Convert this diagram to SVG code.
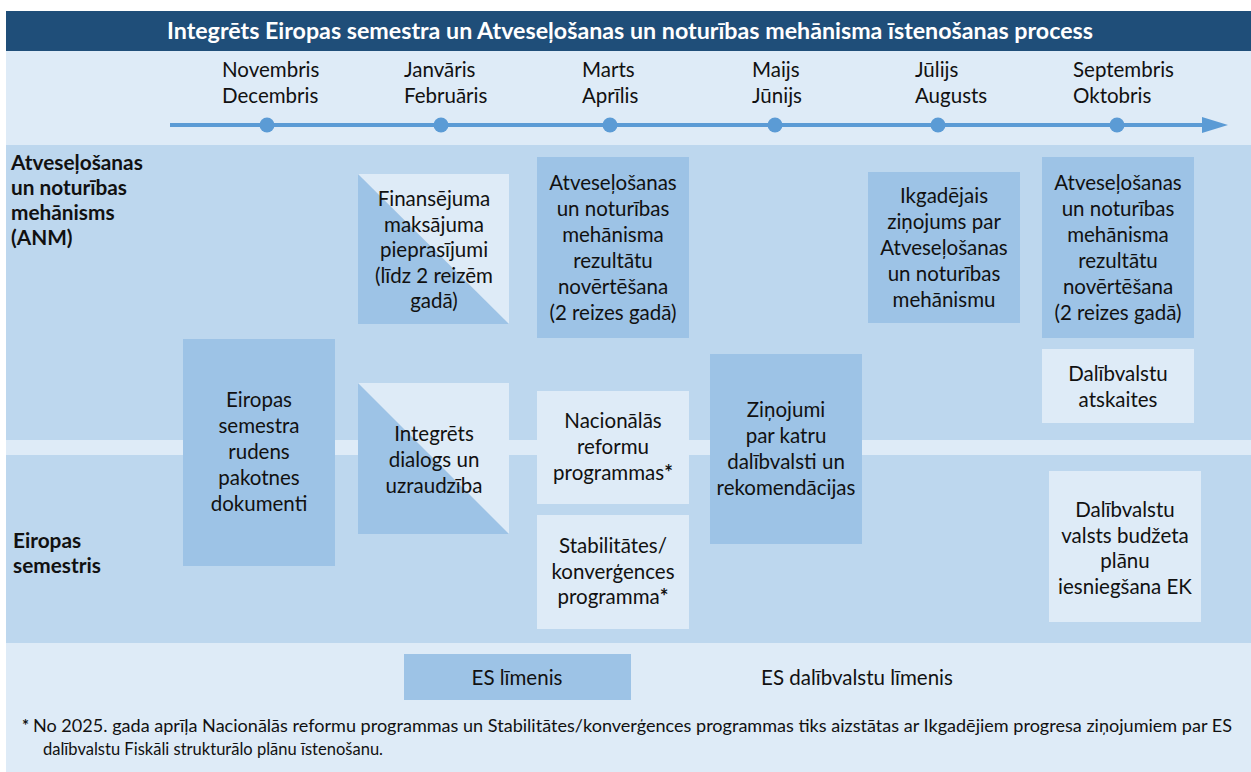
<svg xmlns="http://www.w3.org/2000/svg" width="1251" height="772" viewBox="0 0 1251 772">
<style>
text{font-family:Lato,"Liberation Sans",sans-serif;fill:#111;}
.t{font-size:20.5px;text-anchor:middle;}
.m{font-size:20.5px;}
.h{font-size:20.8px;font-weight:bold;}
.title{font-size:22.5px;font-weight:bold;fill:#fff;text-anchor:middle;}
.fn{font-size:16.5px;}
.ast{font-weight:bold;}
.dark{fill:#9dc3e6;}
.light{fill:#deebf7;}
.dot{fill:#5b9bd5;}
</style>
<rect x="0" y="0" width="1251" height="772" fill="#fff"/>
<rect x="6" y="51" width="1245" height="721" class="light"/>
<rect x="6" y="11" width="1245" height="40" fill="#1f4e79"/>
<rect x="6" y="145" width="1245" height="498" fill="#bdd7ee"/>
<rect x="6" y="440" width="1245" height="15" class="light"/>
<text class="title" x="630" y="39" textLength="926" lengthAdjust="spacingAndGlyphs">Integrēts Eiropas semestra un Atveseļošanas un noturības mehānisma īstenošanas process</text>

<g id="timeline">
<line x1="170" y1="125" x2="1206" y2="125" stroke="#5b9bd5" stroke-width="4"/>
<polygon points="1202,117 1228,125 1202,133" class="dot"/>
<circle cx="267" cy="125" r="7.5" class="dot"/>
<circle cx="441" cy="125" r="7.5" class="dot"/>
<circle cx="610" cy="125" r="7.5" class="dot"/>
<circle cx="775" cy="125" r="7.5" class="dot"/>
<circle cx="938" cy="125" r="7.5" class="dot"/>
<circle cx="1117" cy="125" r="7.5" class="dot"/>
<text class="m" x="222" y="77">Novembris<tspan x="222" y="103">Decembris</tspan></text>
<text class="m" x="404" y="77">Janvāris<tspan x="404" y="103">Februāris</tspan></text>
<text class="m" x="582" y="77">Marts<tspan x="582" y="103">Aprīlis</tspan></text>
<text class="m" x="752" y="77">Maijs<tspan x="752" y="103">Jūnijs</tspan></text>
<text class="m" x="915" y="77">Jūlijs<tspan x="915" y="103">Augusts</tspan></text>
<text class="m" x="1073" y="77">Septembris<tspan x="1073" y="103">Oktobris</tspan></text>
</g>

<g id="lane-anm">
<text class="h" x="11" y="170">Atveseļošanas<tspan x="11" y="195">un noturības</tspan><tspan x="11" y="220">mehānisms</tspan><tspan x="11" y="245">(ANM)</tspan></text>
</g>
<g id="lane-es">
<text class="h" x="13" y="548">Eiropas<tspan x="13" y="573">semestris</tspan></text>
</g>

<g id="n-finansejuma">
<rect x="358" y="174" width="151" height="150" class="light"/>
<polygon points="358,174 509,324 358,324" class="dark"/>
<text class="t" x="434" y="206">Finansējuma<tspan x="434" y="231.5">maksājuma</tspan><tspan x="434" y="257">pieprasījumi</tspan><tspan x="434" y="282.5">(līdz 2 reizēm</tspan><tspan x="434" y="308">gadā)</tspan></text>
</g>

<g id="n-novertesana1">
<rect x="537" y="157" width="152" height="181" class="dark"/>
<text class="t" x="613" y="190">Atveseļošanas<tspan x="613" y="216">un noturības</tspan><tspan x="613" y="242">mehānisma</tspan><tspan x="613" y="268">rezultātu</tspan><tspan x="613" y="294">novērtēšana</tspan><tspan x="613" y="320">(2 reizes gadā)</tspan></text>
</g>

<g id="n-ikgadejais">
<rect x="868" y="172" width="152" height="151" class="dark"/>
<text class="t" x="944" y="203">Ikgadējais<tspan x="944" y="229">ziņojums par</tspan><tspan x="944" y="255">Atveseļošanas</tspan><tspan x="944" y="281">un noturības</tspan><tspan x="944" y="307">mehānismu</tspan></text>
</g>

<g id="n-novertesana2">
<rect x="1042" y="157" width="152" height="181" class="dark"/>
<text class="t" x="1118" y="190">Atveseļošanas<tspan x="1118" y="216">un noturības</tspan><tspan x="1118" y="242">mehānisma</tspan><tspan x="1118" y="268">rezultātu</tspan><tspan x="1118" y="294">novērtēšana</tspan><tspan x="1118" y="320">(2 reizes gadā)</tspan></text>
</g>

<g id="n-rudens">
<rect x="183" y="339" width="152" height="227" class="dark"/>
<text class="t" x="259" y="407">Eiropas<tspan x="259" y="433">semestra</tspan><tspan x="259" y="459">rudens</tspan><tspan x="259" y="485">pakotnes</tspan><tspan x="259" y="511">dokumenti</tspan></text>
</g>

<g id="n-dialogs">
<rect x="358" y="383" width="151" height="151" class="light"/>
<polygon points="358,383 509,534 358,534" class="dark"/>
<text class="t" x="434" y="441">Integrēts<tspan x="434" y="467">dialogs un</tspan><tspan x="434" y="493">uzraudzība</tspan></text>
</g>

<g id="n-nacionalas">
<rect x="537" y="391" width="152" height="113" class="light"/>
<text class="t" x="613" y="428">Nacionālās<tspan x="613" y="454">reformu</tspan><tspan x="613" y="480">programmas<tspan class="ast">*</tspan></tspan></text>
</g>

<g id="n-stabilitates">
<rect x="537" y="515" width="152" height="114" class="light"/>
<text class="t" x="613" y="553">Stabilitātes/<tspan x="613" y="579">konverģences</tspan><tspan x="613" y="604">programma<tspan class="ast">*</tspan></tspan></text>
</g>

<g id="n-zinojumi">
<rect x="710" y="354" width="152" height="190" class="dark"/>
<text class="t" x="786" y="417">Ziņojumi<tspan x="786" y="443">par katru</tspan><tspan x="786" y="469">dalībvalsti un</tspan><tspan x="786" y="495">rekomendācijas</tspan></text>
</g>

<g id="n-atskaites">
<rect x="1042" y="349" width="152" height="74" class="light"/>
<text class="t" x="1118" y="381">Dalībvalstu<tspan x="1118" y="407">atskaites</tspan></text>
</g>

<g id="n-budzeta">
<rect x="1049" y="471" width="152" height="151" class="light"/>
<text class="t" x="1125" y="517">Dalībvalstu<tspan x="1125" y="543">valsts budžeta</tspan><tspan x="1125" y="568">plānu</tspan><tspan x="1125" y="594">iesniegšana EK</tspan></text>
</g>

<g id="connectors"></g>

<g id="legend">
<rect x="404" y="654" width="227" height="46" class="dark"/>
<text class="t" x="517" y="685">ES līmenis</text>
<text class="t" x="857" y="685">ES dalībvalstu līmenis</text>
</g>

<g id="footnote">
<text class="fn" x="22" y="732" font-weight="bold">*</text>
<text class="fn" x="33" y="732" textLength="1199" lengthAdjust="spacingAndGlyphs">No 2025. gada aprīļa Nacionālās reformu programmas un Stabilitātes/konverģences programmas tiks aizstātas ar  Ikgadējiem progresa ziņojumiem par ES</text>
<text class="fn" x="43" y="755" textLength="340" lengthAdjust="spacingAndGlyphs">dalībvalstu Fiskāli strukturālo plānu īstenošanu.</text>
</g>
</svg>
